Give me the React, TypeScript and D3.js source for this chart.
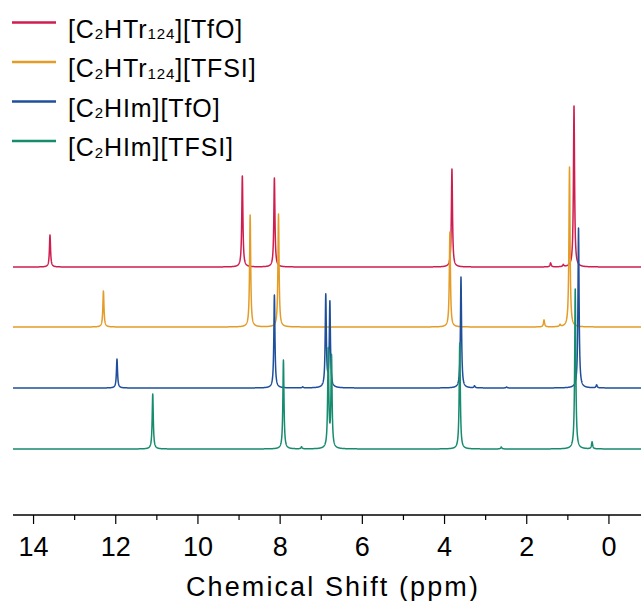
import * as d3 from "d3";

// 1H NMR stacked spectra — peak lists
const seriesNames = ["[C2HTr124][TfO]", "[C2HTr124][TFSI]", "[C2HIm][TfO]", "[C2HIm][TFSI]"];
const seriesColors = ["#cf1d4f", "#e49c26", "#1f4f9b", "#168b6e"];
// vertical offset of each trace (intensity units)
const seriesOffsets = [248, 188, 127, 66];

// peak positions (ppm) and heights (intensity units)
const redPpm = [13.6, 8.92, 8.14, 3.82, 1.42, 1.11, 0.85];
const redHeight = [32, 91, 89, 98, 4, 2, 161];
const orangePpm = [12.3, 8.73, 8.04, 3.87, 1.58, 1.19, 0.96];
const orangeHeight = [36, 112, 113, 95, 7, 2, 160];
const bluePpm = [11.97, 8.14, 7.45, 6.89, 6.79, 3.6, 3.27, 2.49, 0.74, 0.3];
const blueHeight = [29, 93, 1, 92, 85, 111, 2, 1, 160, 3];
const greenPpm = [11.1, 7.92, 7.48, 6.83, 6.75, 3.63, 2.62, 0.82, 0.41];
const greenHeight = [55, 89, 2, 98, 91, 106, 2, 160, 7];

const peakPpm = [redPpm, orangePpm, bluePpm, greenPpm];
const peakHeight = [redHeight, orangeHeight, blueHeight, greenHeight];

const majorTicks = [14, 12, 10, 8, 6, 4, 2, 0];
const minorTicks = [13, 11, 9, 7, 5, 3, 1];

const W = 641;
const H = 601;
const font = "'Liberation Sans', Arial, Helvetica, sans-serif";

function spectrum(ppms: number[], heights: number[], lo: number, hi: number) {
  const hw = 0.016; // half width at half max, ppm
  const xs = d3.range(lo, hi, 0.003).concat(ppms);
  xs.sort((a, b) => a - b);
  return xs.map((p) => {
    let v = 0;
    ppms.forEach((c, i) => {
      const d = p - c;
      v += (heights[i] * hw * hw) / (d * d + hw * hw);
    });
    return [p, v] as [number, number];
  });
}

export default function App() {
  const x = d3.scaleLinear().domain([14.5, -0.78]).range([13, 641]);
  const y = d3.scaleLinear().domain([0, 400]).range([515, 115]);
  const axisY = 515;

  return (
    <div style={{ position: "absolute", left: 0, top: 0, width: W, height: H, background: "#fff" }}>
      <svg width={W} height={H} style={{ display: "block" }}>
        <defs>
          <clipPath id="plotClip">
            <rect x={13} y={0} width={W - 13} height={axisY} />
          </clipPath>
        </defs>

        <g clipPath="url(#plotClip)">
          {seriesNames.map((name, k) => {
            const pts = spectrum(peakPpm[k], peakHeight[k], -0.9, 14.6);
            const line = d3
              .line<[number, number]>()
              .x((d) => x(d[0]))
              .y((d) => y(d[1] + seriesOffsets[k]));
            return (
              <path
                key={name}
                d={line(pts) ?? ""}
                fill="none"
                stroke={seriesColors[k]}
                strokeWidth={1.5}
                strokeLinejoin="round"
              />
            );
          })}
        </g>

        {/* legend */}
        <g fontFamily={font} fill="#000">
          {seriesNames.map((name, k) => {
            const base = 37.5 + k * 39.5;
            const tr = name.startsWith("[C2HTr124]");
            const anion = name.endsWith("[TfO]") ? "][TfO]" : "][TFSI]";
            return (
              <g key={name}>
                <line
                  x1={12}
                  x2={56}
                  y1={base - 15}
                  y2={base - 15}
                  stroke={seriesColors[k]}
                  strokeWidth={2.6}
                />
                <text x={68} y={base} fontSize={25} letterSpacing={0.9}>
                  <tspan>[C</tspan>
                  <tspan fontSize={15} dy={1.5}>2</tspan>
                  <tspan dy={-1.5}>{tr ? "HTr" : "HIm"}</tspan>
                  {tr && (
                    <tspan fontSize={15} dy={1.5}>124</tspan>
                  )}
                  <tspan dy={tr ? -1.5 : 0}>{anion}</tspan>
                </text>
              </g>
            );
          })}
        </g>

        {/* x axis */}
        <g fontFamily={font}>
          <line x1={13} x2={641} y1={axisY} y2={axisY} stroke="#000" strokeWidth={1.4} />
          {majorTicks.map((t) => (
            <g key={"M" + t}>
              <line x1={x(t)} x2={x(t)} y1={axisY} y2={axisY + 9} stroke="#000" strokeWidth={1.2} />
              <text x={x(t)} y={556} fontSize={27} textAnchor="middle" fill="#000">
                {t}
              </text>
            </g>
          ))}
          {minorTicks.map((t) => (
            <line key={"m" + t} x1={x(t)} x2={x(t)} y1={axisY} y2={axisY + 5} stroke="#000" strokeWidth={1.2} />
          ))}
          <text x={333} y={596} fontSize={27} letterSpacing={2.1} textAnchor="middle" fill="#000">
            Chemical Shift (ppm)
          </text>
        </g>
      </svg>
    </div>
  );
}
